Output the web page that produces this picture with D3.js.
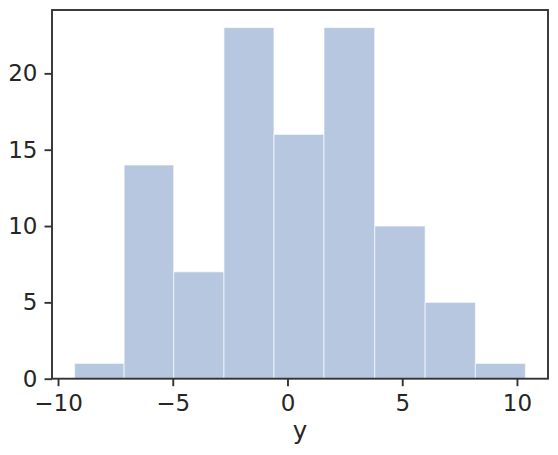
<!DOCTYPE html>
<html>
<head>
<meta charset="utf-8">
<script src="https://cdn.jsdelivr.net/npm/d3@7"></script>
<style>
  body { margin: 0; background: #fff; }
  text { font-family: "DejaVu Sans", sans-serif; fill: #262626; }
</style>
</head>
<body>
<div id="chart"></div>
<script>
// histogram bins
const binEdges = [-9.28, -7.12, -4.96, -2.77, -0.59, 1.59, 3.80, 6.00, 8.19, 10.37];
const counts = [1, 14, 7, 23, 16, 23, 10, 5, 1];
const xTicks = [-10, -5, 0, 5, 10];
const yTicks = [0, 5, 10, 15, 20];
const xLabel = "y";

const bins = counts.map((c, i) => ({x0: binEdges[i], x1: binEdges[i + 1], count: c}));

const W = 558, H = 455;
const plot = {left: 52, right: 548, top: 10, bottom: 378.7};

const svg = d3.select("#chart")
  .append("svg")
    .attr("width", W)
    .attr("height", H);

// 5% margins around the data like matplotlib
const span = binEdges[binEdges.length - 1] - binEdges[0];
const x = d3.scaleLinear()
    .domain([binEdges[0] - span * 0.05, binEdges[binEdges.length - 1] + span * 0.05])
    .range([plot.left, plot.right]);
const y = d3.scaleLinear()
    .domain([0, d3.max(counts) * 1.05])
    .range([plot.bottom, plot.top]);

// bars
svg.append("g")
  .selectAll("rect")
  .data(bins)
  .join("rect")
    .attr("x", d => x(d.x0))
    .attr("y", d => y(d.count))
    .attr("width", d => x(d.x1) - x(d.x0))
    .attr("height", d => y(0) - y(d.count))
    .attr("fill", "#4c72b0")
    .attr("fill-opacity", 0.4)
    .attr("stroke", "#ffffff")
    .attr("stroke-opacity", 0.55)
    .attr("stroke-width", 1.2);

// frame
svg.append("rect")
    .attr("x", plot.left)
    .attr("y", plot.top)
    .attr("width", plot.right - plot.left)
    .attr("height", plot.bottom - plot.top)
    .attr("fill", "none")
    .attr("stroke", "#333333")
    .attr("stroke-width", 1.9);

const fmt = d3.format("d");

// x axis
const gx = svg.append("g")
    .attr("transform", `translate(0,${plot.bottom})`)
    .call(d3.axisBottom(x).tickValues(xTicks).tickFormat(fmt).tickSize(7.5).tickPadding(8));
gx.select(".domain").remove();
gx.selectAll(".tick line").attr("stroke", "#333333").attr("stroke-width", 1.9);
gx.selectAll(".tick text")
    .style("font-size", "23px")
    .style("font-family", "DejaVu Sans, sans-serif")
    .attr("fill", "#262626");

// y axis
const gy = svg.append("g")
    .attr("transform", `translate(${plot.left},0)`)
    .call(d3.axisLeft(y).tickValues(yTicks).tickFormat(fmt).tickSize(7.5).tickPadding(7));
gy.select(".domain").remove();
gy.selectAll(".tick line").attr("stroke", "#333333").attr("stroke-width", 1.9);
gy.selectAll(".tick text")
    .style("font-size", "23px")
    .style("font-family", "DejaVu Sans, sans-serif")
    .attr("fill", "#262626");

// axis label
svg.append("text")
    .attr("x", (plot.left + plot.right) / 2)
    .attr("y", 439)
    .attr("text-anchor", "middle")
    .style("font-size", "24.5px")
    .text(xLabel);
</script>
</body>
</html>
